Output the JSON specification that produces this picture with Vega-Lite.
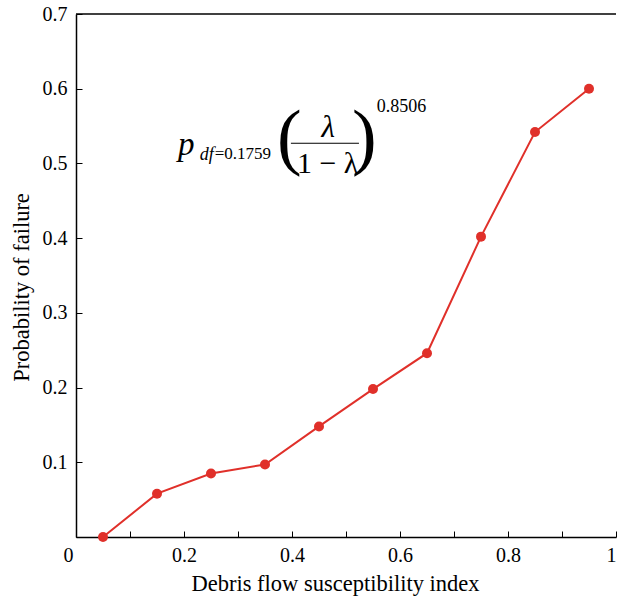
{
  "$schema": "https://vega.github.io/schema/vega-lite/v6.json",
  "width": 540,
  "height": 523,
  "autosize": {"type": "none"},
  "padding": {"left": 76, "top": 14, "right": 3, "bottom": 63},
  "background": "white",
  "config": {
    "view": {"stroke": null},
    "font": "Liberation Serif",
    "text": {"fontWeight": "normal"},
    "axis": {"grid": false, "domainColor": "black", "domainWidth": 1.5, "tickColor": "black", "tickWidth": 1, "labelColor": "black", "titleColor": "black", "labelFont": "Liberation Serif", "titleFont": "Liberation Serif", "labelFontSize": 20, "titleFontSize": 22.5, "titleFontWeight": "normal", "labelFontWeight": "normal"}
  },
  "data": {
    "values": [
      {"x": 0.05, "y": 0.0},
      {"x": 0.15, "y": 0.058},
      {"x": 0.25, "y": 0.085},
      {"x": 0.35, "y": 0.097},
      {"x": 0.45, "y": 0.148},
      {"x": 0.55, "y": 0.198},
      {"x": 0.65, "y": 0.246},
      {"x": 0.75, "y": 0.402},
      {"x": 0.85, "y": 0.542},
      {"x": 0.95, "y": 0.6}
    ]
  },
  "layer": [
    {
      "mark": {"type": "line", "color": "#e0302a", "strokeWidth": 2},
      "encoding": {
        "x": {"field": "x", "type": "quantitative", "scale": {"domain": [0, 1], "nice": false}, "title": "Debris flow susceptibility index",
          "axis": {"values": [0, 0.1, 0.2, 0.3, 0.4, 0.5, 0.6, 0.7, 0.8, 0.9, 1], "tickSize": -6, "labelPadding": 14, "labelOffset": {"condition": {"test": "datum.value == 0", "value": -13}, "value": 0}, "labelExpr": "round(datum.value*10) % 2 == 0 ? format(datum.value, '~g') : ''", "titleX": 259, "titleY": 53, "titleBaseline": "alphabetic", "titleAnchor": null}},
        "y": {"field": "y", "type": "quantitative", "scale": {"domain": [0, 0.7], "nice": false}, "title": "Probability of failure",
          "axis": {"values": [0, 0.1, 0.2, 0.3, 0.4, 0.5, 0.6, 0.7], "tickSize": -6, "labelPadding": 15, "labelExpr": "datum.value == 0 ? '' : format(datum.value, '.1f')", "titleX": -48, "titleY": 273, "titleBaseline": "alphabetic", "titleAnchor": null}}
      }
    },
    {
      "mark": {"type": "circle", "color": "#e0302a", "opacity": 1, "size": 100},
      "encoding": {
        "x": {"field": "x", "type": "quantitative"},
        "y": {"field": "y", "type": "quantitative"}
      }
    },
    {
      "data": {"values": [{}]},
      "mark": {"type": "rule", "color": "black", "strokeWidth": 1.5},
      "encoding": {"y": {"datum": 0.7}}
    },
    {
      "data": {"values": [{}]},
      "mark": {"type": "text", "text": "p", "font": "Liberation Serif", "fontStyle": "italic", "fontWeight": "normal", "fontSize": 33, "align": "left", "baseline": "alphabetic"},
      "encoding": {"x": {"datum": 0.189}, "y": {"datum": 0.511}}
    },
    {
      "data": {"values": [{}]},
      "mark": {"type": "text", "text": "df", "font": "Liberation Serif", "fontStyle": "italic", "fontWeight": "normal", "fontSize": 18, "align": "left", "baseline": "alphabetic"},
      "encoding": {"x": {"datum": 0.229}, "y": {"datum": 0.504}}
    },
    {
      "data": {"values": [{}]},
      "mark": {"type": "text", "text": "=0.1759", "font": "Liberation Serif", "fontWeight": "normal", "fontSize": 17, "align": "left", "baseline": "alphabetic"},
      "encoding": {"x": {"datum": 0.257}, "y": {"datum": 0.506}}
    },
    {
      "data": {"values": [{}]},
      "mark": {"type": "text", "text": "(", "font": "Liberation Serif", "fontSize": 74, "fontWeight": "normal", "align": "center", "baseline": "alphabetic"},
      "encoding": {"x": {"datum": 0.395}, "y": {"datum": 0.503}}
    },
    {
      "data": {"values": [{}]},
      "mark": {"type": "text", "text": "λ", "font": "Liberation Serif", "fontStyle": "italic", "fontWeight": "normal", "fontSize": 31, "align": "center", "baseline": "alphabetic"},
      "encoding": {"x": {"datum": 0.467}, "y": {"datum": 0.535}}
    },
    {
      "data": {"values": [{}]},
      "mark": {"type": "rule", "color": "black", "strokeWidth": 1},
      "encoding": {"x": {"datum": 0.398}, "x2": {"datum": 0.524}, "y": {"datum": 0.527}}
    },
    {
      "data": {"values": [{}]},
      "mark": {"type": "text", "text": "1 − λ", "font": "Liberation Serif", "fontWeight": "normal", "fontSize": 30, "align": "center", "baseline": "alphabetic"},
      "encoding": {"x": {"datum": 0.466}, "y": {"datum": 0.487}}
    },
    {
      "data": {"values": [{}]},
      "mark": {"type": "text", "text": ")", "font": "Liberation Serif", "fontSize": 74, "fontWeight": "normal", "align": "center", "baseline": "alphabetic"},
      "encoding": {"x": {"datum": 0.534}, "y": {"datum": 0.503}}
    },
    {
      "data": {"values": [{}]},
      "mark": {"type": "text", "text": "0.8506", "font": "Liberation Serif", "fontWeight": "normal", "fontSize": 18, "align": "left", "baseline": "alphabetic"},
      "encoding": {"x": {"datum": 0.557}, "y": {"datum": 0.569}}
    }
  ]
}
